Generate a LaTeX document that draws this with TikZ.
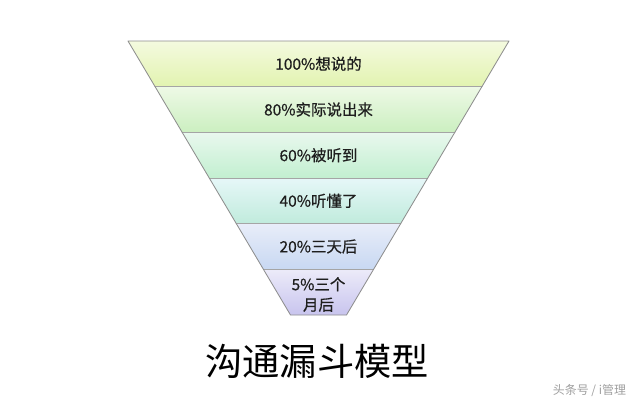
\documentclass[tikz,border=0pt]{standalone}
\usepackage{fontspec}
\setmainfont{Noto Sans CJK SC}
\newfontfamily\labelfont[FakeBold=0.6]{Noto Sans CJK SC}
\usetikzlibrary{positioning}
\definecolor{topA}{HTML}{F4FADF}\definecolor{botA}{HTML}{E2F3B0}
\definecolor{topB}{HTML}{EEF9E6}\definecolor{botB}{HTML}{CBEFC0}
\definecolor{topC}{HTML}{E9F8EE}\definecolor{botC}{HTML}{C2EFD0}
\definecolor{topD}{HTML}{E6F7F8}\definecolor{botD}{HTML}{C0EBDC}
\definecolor{topE}{HTML}{E8EDF9}\definecolor{botE}{HTML}{C8D8F2}
\definecolor{topF}{HTML}{ECEBF9}\definecolor{botF}{HTML}{C8C4EE}
\definecolor{edgegray}{HTML}{8E8E8E}
\definecolor{inkgray}{HTML}{1E1E1E}
\tikzset{
  band/.style={font=\labelfont\fontsize{11}{14}\selectfont, text=inkgray, align=center},
  sep/.style={draw=edgegray!80, line width=0.5pt},
  rim/.style={draw=edgegray, line width=0.6pt}
}
\begin{document}
\begin{tikzpicture}[x=0.025cm, y=-0.025cm, line join=round, line cap=round]
	\useasboundingbox (0,0) rectangle (640,404);
	% layers of the funnel
	\foreach \i/\tc/\bc in {0/topA/botA, 1/topB/botB, 2/topC/botC, 3/topD/botD, 4/topE/botE, 5/topF/botF}
	{
		\pgfmathsetmacro\ya{41+45.667*\i}
		\pgfmathsetmacro\yb{41+45.667*(\i+1)}
		\pgfmathsetmacro\ha{190.5-0.593*(\ya-41)}
		\pgfmathsetmacro\hb{190.5-0.593*(\yb-41)}
		\shade[top color=\tc, bottom color=\bc] (318.5-\ha,\ya) -- (318.5+\ha,\ya) -- (318.5+\hb,\yb) -- (318.5-\hb,\yb) -- cycle;
		\ifnum\i>0
			\draw[sep] (318.5-\ha,\ya) -- (318.5+\ha,\ya);
		\fi
	}
	\draw[rim] (128,41) -- (509,41) -- (346.5,315) -- (290.5,315) -- cycle;
	% labels
	\node[band] (all) at (318.5,63.8) {100\%想说的};
	\node[band] (said) at (318.5,109.5) {80\%实际说出来};
	\node[band] (heard) at (318.5,155.2) {60\%被听到};
	\node[band] (got) at (318.5,200.8) {40\%听懂了};
	\node[band] (days) at (318.5,246.5) {20\%三天后};
	\node[band, font=\labelfont\fontsize{11}{14.5}\selectfont] (months) at (318.5,294.5) {5\%三个\\月后};
	\node[font=\fontsize{26.5}{30}\selectfont, text=black] (title) at (317,361) {沟通漏斗模型};
	\node[font=\fontsize{8.5}{10}\selectfont, text=gray!75, anchor=east] (mark) at (631,391) {头条号 / i管理};
\end{tikzpicture}
\end{document}
